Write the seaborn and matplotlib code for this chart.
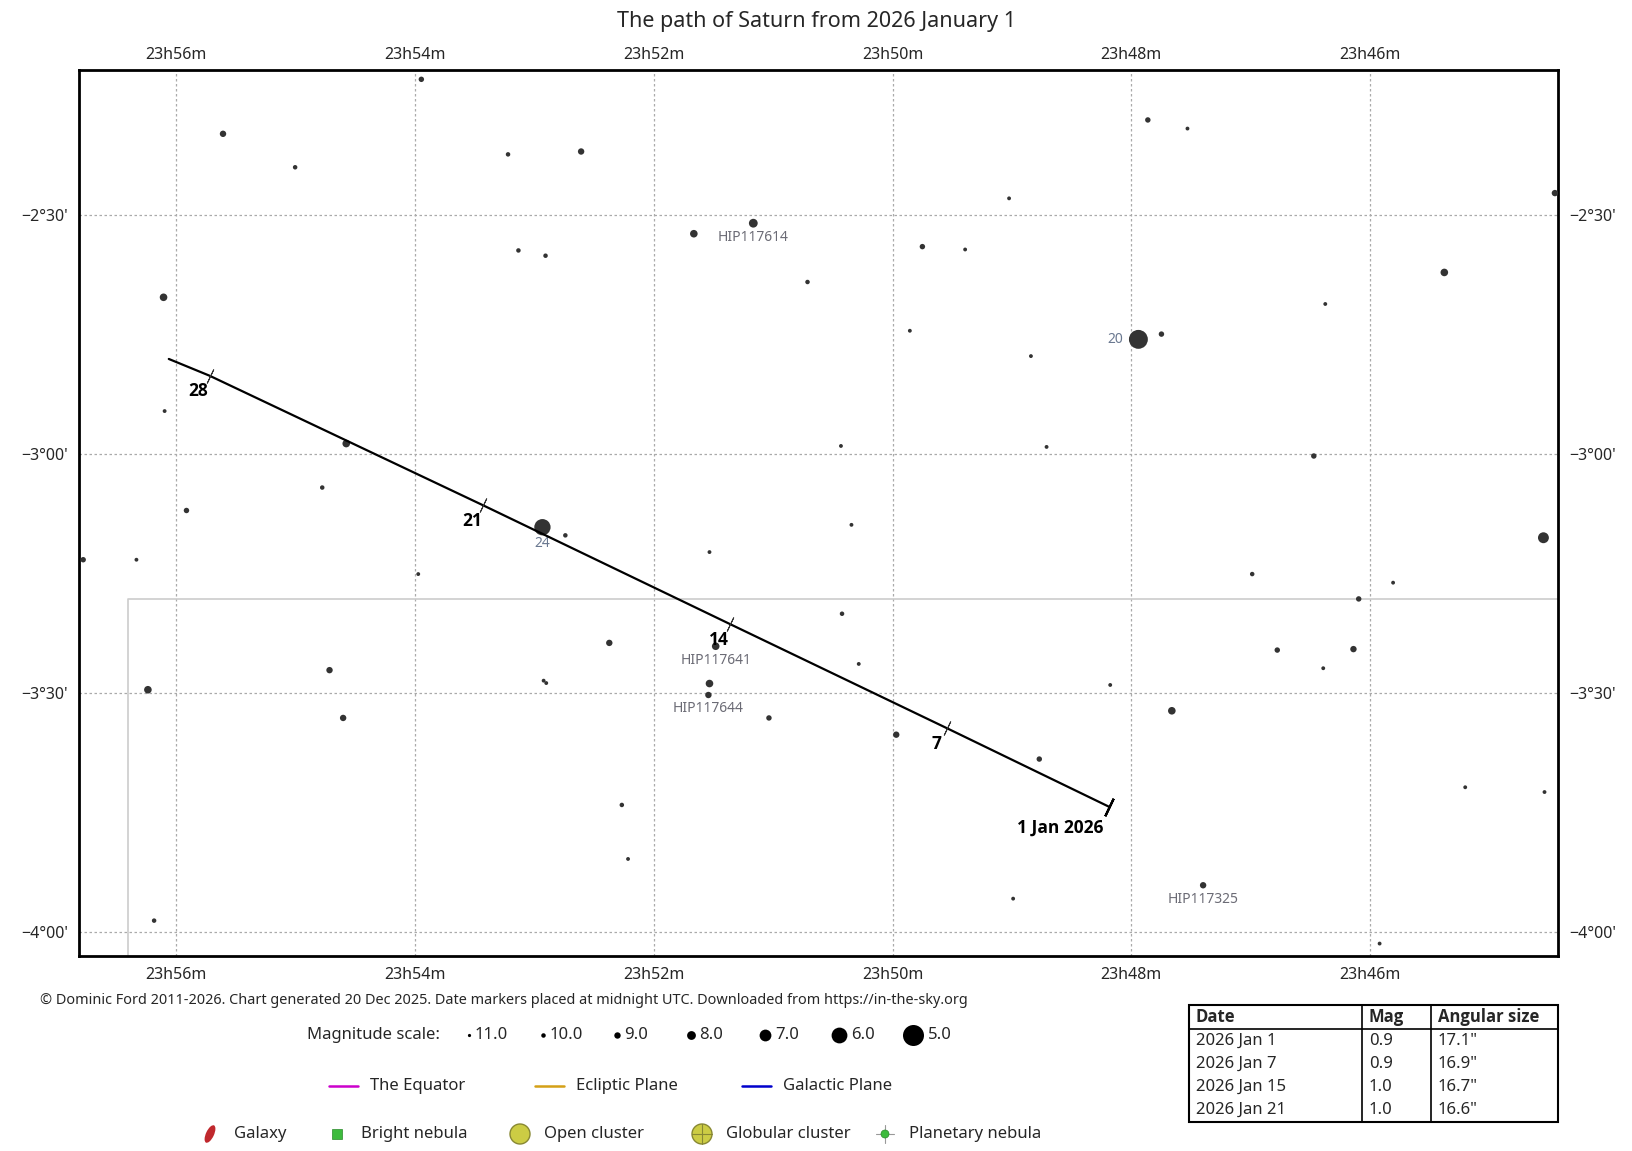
import numpy as np
import pandas as pd
import matplotlib
matplotlib.use("Agg")
import matplotlib.pyplot as plt
import matplotlib.transforms as mtransforms
from matplotlib.patches import Ellipse, Rectangle, Circle
import seaborn as sns

# star field: RA in minutes past 23h, Dec in degrees, visual magnitude
star_ra = [53.946, 55.607, 55.003, 53.220, 52.608, 51.166, 51.664, 53.133, 52.906, 49.750,
           49.392, 50.712, 49.024, 47.862, 47.530, 44.453, 45.379, 46.376, 47.941, 47.748,
           49.855, 48.841, 56.105, 56.096, 54.575, 50.432, 48.710, 46.472, 54.776, 55.913,
           52.932, 52.740, 50.344, 56.778, 56.332, 53.972, 51.533, 44.549, 46.988, 45.808,
           46.096, 50.423, 52.372, 51.481, 50.283, 46.778, 46.140, 46.393, 54.715, 56.236,
           52.922, 52.900, 51.533, 51.542, 48.177, 47.661, 54.601, 51.035, 49.969, 48.771,
           45.204, 44.540, 52.267, 52.215, 47.399, 48.990, 56.184, 45.921]
star_dec = [-2.216, -2.330, -2.400, -2.373, -2.367, -2.517, -2.539, -2.574, -2.585, -2.566,
            -2.572, -2.640, -2.465, -2.301, -2.319, -2.454, -2.620, -2.686, -2.760, -2.749,
            -2.742, -2.795, -2.672, -2.910, -2.978, -2.983, -2.985, -3.004, -3.070, -3.118,
            -3.153, -3.170, -3.148, -3.221, -3.221, -3.251, -3.205, -3.175, -3.251, -3.269,
            -3.303, -3.334, -3.395, -3.402, -3.439, -3.410, -3.408, -3.448, -3.452, -3.493,
            -3.474, -3.479, -3.480, -3.504, -3.483, -3.537, -3.552, -3.552, -3.587, -3.638,
            -3.697, -3.707, -3.734, -3.847, -3.902, -3.930, -3.976, -4.024]
star_mag = [9.5, 9.0, 10.0, 10.0, 9.0, 8.0, 8.5, 10.0, 10.0, 9.5,
            10.5, 10.0, 10.5, 9.5, 10.5, 9.0, 8.5, 10.5, 5.4, 9.5,
            10.5, 10.5, 8.5, 10.5, 8.5, 10.5, 10.5, 9.5, 10.0, 9.5,
            5.9, 10.0, 10.5, 9.5, 10.5, 10.5, 10.5, 7.3, 10.0, 10.5,
            9.5, 10.0, 9.0, 8.5, 10.5, 9.5, 9.0, 10.5, 9.0, 8.5,
            10.5, 10.5, 8.5, 9.0, 10.5, 8.5, 9.0, 9.5, 9.0, 9.5,
            10.5, 10.5, 10.0, 10.5, 9.0, 10.5, 10.0, 10.5]

# labelled stars
label_text = ["HIP117614", "HIP117641", "HIP117644", "HIP117325", "24", "20"]
label_ra = [51.166, 51.481, 51.542, 47.399, 52.932, 47.941]
label_dec = [-2.517, -3.402, -3.504, -3.902, -3.153, -2.760]

# Saturn's path
path_day = [1, 7, 14, 21, 28, 29]
path_ra = [48.185, 49.540, 51.358, 53.430, 55.720, 56.061]
path_dec = [-3.738, -3.574, -3.356, -3.107, -2.836, -2.801]
path_labels = ["1 Jan 2026", "7", "14", "21", "28", ""]

# constellation boundary
bound_ra = [56.402, 56.402, 44.0]
bound_dec = [-4.3, -3.3035, -3.3035]

ra_ticks = [56, 54, 52, 50, 48, 46]
ra_ticklabels = ["23h56m", "23h54m", "23h52m", "23h50m", "23h48m", "23h46m"]
dec_ticks = [-2.5, -3.0, -3.5, -4.0]
dec_ticklabels = ["\u22122°30'", "\u22123°00'", "\u22123°30'", "\u22124°00'"]

legend_mags = [11.0, 10.0, 9.0, 8.0, 7.0, 6.0, 5.0]
legend_diam = [3.2, 4.5, 6.4, 8.8, 11.8, 15.8, 21.0]

table_cols = ["Date", "Mag", "Angular size"]
table_dates = ["2026 Jan 1", "2026 Jan 7", "2026 Jan 15", "2026 Jan 21"]
table_mags = ["0.9", "0.9", "1.0", "1.0"]
table_sizes = ['17.1"', '16.9"', '16.7"', '16.6"']

sns.set_style("white")
plt.rcParams['font.family'] = ['Noto Sans', 'DejaVu Sans']
BOLD = ['Open Sans', 'DejaVu Sans']

W, H = 1633, 1151
fig = plt.figure(figsize=(W / 100, H / 100), dpi=100)

# helper axes in pixel coordinates for the legend area
lax = fig.add_axes([0, 0, 1, 1], zorder=0)
lax.set_xlim(0, W)
lax.set_ylim(H, 0)
lax.axis("off")

ax = fig.add_axes([79 / W, (H - 956) / H, (1558 - 79) / W, (956 - 70) / H], zorder=1)
ax.set_xlim(56.813, 44.427)
ax.set_ylim(-4.050, -2.1965)


def mag_to_pts(m):
    d = np.interp(-np.asarray(m), [-x for x in legend_mags], legend_diam)
    return (d * 0.72) ** 2


stars = pd.DataFrame({"ra": star_ra, "dec": star_dec, "mag": star_mag})
sns.scatterplot(data=stars, x="ra", y="dec", s=mag_to_pts(stars["mag"]),
                color="#333333", linewidth=0, ax=ax, zorder=3)

ax.plot(bound_ra, bound_dec, color="#cccccc", lw=1.2, zorder=1)

for txt, r, d in zip(label_text, label_ra, label_dec):
    if txt == "20":
        ax.annotate(txt, (r, d), xytext=(-11, 0), textcoords="offset points",
                    ha="right", va="center", fontsize=10, color="#6a7890")
    elif txt == "24":
        ax.annotate(txt, (r, d), xytext=(0, -12), textcoords="offset points",
                    ha="center", va="center", fontsize=10, color="#6a7890")
    else:
        ax.annotate(txt, (r, d), xytext=(0, -10), textcoords="offset points",
                    ha="center", va="center", fontsize=10, color="#6b6b75")

path = pd.DataFrame({"ra": path_ra, "dec": path_dec})
sns.lineplot(data=path, x="ra", y="dec", sort=False, estimator=None,
             color="black", lw=1.6, ax=ax, zorder=4)

pix = ax.transData.transform(np.column_stack([path_ra, path_dec]))
ang = np.degrees(np.arctan2(pix[-1, 1] - pix[0, 1], pix[-1, 0] - pix[0, 0]))
ax.plot(path_ra[0], path_dec[0], marker=(2, 2, ang), ms=14, mew=1.6,
        color="black", zorder=5)
ax.plot(path_ra[1:5], path_dec[1:5], ls="none", marker=(2, 2, ang), ms=11,
        mew=0.7, color="#333333", zorder=5)
for i, lab in enumerate(path_labels):
    if not lab:
        continue
    off = (-35, -15) if i == 0 else (-8, -11)
    ax.annotate(lab, (path_ra[i], path_dec[i]), xytext=off, textcoords="offset points",
                ha="center", va="center", fontsize=12.5, fontweight="bold",
                family=BOLD, color="black")

ax.set_xticks(ra_ticks)
ax.set_xticklabels(ra_ticklabels)
ax.set_yticks(dec_ticks)
ax.set_yticklabels(dec_ticklabels)
ax.tick_params(axis="both", length=0, labelsize=11.5, pad=8,
               top=True, labeltop=True, right=True, labelright=True)
# top labels sit a little closer to the frame than the bottom ones
shift = mtransforms.ScaledTranslation(0, -0.04, fig.dpi_scale_trans)
for t in ax.xaxis.get_major_ticks():
    t.label2.set_transform(t.label2.get_transform() + shift)
ax.set_xlabel("")
ax.set_ylabel("")
ax.grid(True, color="#aaaaaa", linestyle=(0, (2, 2)), linewidth=0.9)
for sp in ax.spines.values():
    sp.set_visible(True)
    sp.set_color("black")
    sp.set_linewidth(2)

fig.text(0.5, 1 - 22 / H, "The path of Saturn from 2026 January 1",
         ha="center", va="center", fontsize=15.5)

lax.text(40, 1000, "\u00a9 Dominic Ford 2011-2026. Chart generated 20 Dec 2025. "
         "Date markers placed at midnight UTC. Downloaded from https://in-the-sky.org",
         ha="left", va="center", fontsize=10.4)

# magnitude scale
ly = 1035
lax.text(307, ly, "Magnitude scale:", ha="left", va="center", fontsize=12)
for k, (m, dm) in enumerate(zip(legend_mags, legend_diam)):
    x0 = 469 + k * 74
    lax.scatter([x0], [ly], s=(dm * 0.72) ** 2, color="black", linewidth=0)
    lax.text(x0 + dm / 2 + 4, ly, f"{m:.1f}", ha="left", va="center", fontsize=12)

# line legend
ly = 1086
for x0, col, txt in [(329, "#cc00cc", "The Equator"), (535, "#d4a017", "Ecliptic Plane"),
                     (742, "#0000cc", "Galactic Plane")]:
    lax.plot([x0, x0 + 29], [ly, ly], color=col, lw=1.8)
    lax.text(x0 + 41, ly, txt, ha="left", va="center", fontsize=12)

# object legend
ly = 1134
lax.add_patch(Ellipse((210, ly), 8, 19, angle=25, facecolor="#c0282d", edgecolor="none"))
lax.text(234, ly, "Galaxy", ha="left", va="center", fontsize=12)
lax.add_patch(Rectangle((332, ly - 5), 10, 10, facecolor="#3dbb3d", edgecolor="#2a8a2a", lw=0.5))
lax.text(361, ly, "Bright nebula", ha="left", va="center", fontsize=12)
lax.add_patch(Circle((520, ly), 10, facecolor="#cccc44", edgecolor="#888833", lw=1))
lax.text(544, ly, "Open cluster", ha="left", va="center", fontsize=12)
lax.add_patch(Circle((702, ly), 10, facecolor="#cccc44", edgecolor="#888833", lw=1))
lax.plot([692, 712], [ly, ly], color="#888833", lw=0.8)
lax.plot([702, 702], [ly - 10, ly + 10], color="#888833", lw=0.8)
lax.text(726, ly, "Globular cluster", ha="left", va="center", fontsize=12)
lax.plot([876, 894], [ly, ly], color="#999999", lw=0.8)
lax.plot([885, 885], [ly - 9, ly + 9], color="#999999", lw=0.8)
lax.add_patch(Circle((885, ly), 4, facecolor="#3dbb3d", edgecolor="#2a8a2a", lw=0.5, zorder=3))
lax.text(909, ly, "Planetary nebula", ha="left", va="center", fontsize=12)

# data table
tx0, tx1, ty0, ty1 = 1189, 1558, 1005, 1122
lax.add_patch(Rectangle((tx0, ty0), tx1 - tx0, ty1 - ty0, facecolor="white",
                        edgecolor="black", lw=1.5))
lax.plot([tx0, tx1], [1029, 1029], color="black", lw=1.2)
for cx in [1362, 1431]:
    lax.plot([cx, cx], [ty0, ty1], color="black", lw=1.2)
col_x = [1196, 1369, 1438]
for cx, name in zip(col_x, table_cols):
    lax.text(cx, 1017, name, ha="left", va="center", fontsize=12, fontweight="bold",
             family=BOLD)
for r, (dt, mg, sz) in enumerate(zip(table_dates, table_mags, table_sizes)):
    yy = 1041 + r * 23
    for cx, val in zip(col_x, [dt, mg, sz]):
        lax.text(cx, yy, val, ha="left", va="center", fontsize=12)

fig.savefig("out.png", dpi=100)
